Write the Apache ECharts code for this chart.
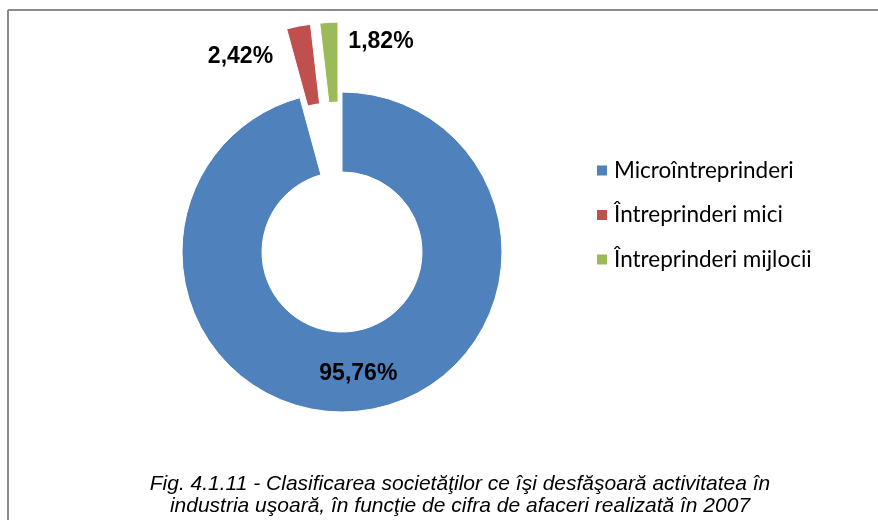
<!DOCTYPE html>
<html>
<head>
<meta charset="utf-8">
<script src="https://cdn.jsdelivr.net/npm/echarts@6/dist/echarts.min.js"></script>
<style>
	html, body { margin: 0; padding: 0; background: #fff; }
	#chart { width: 878px; height: 520px; }
</style>
</head>
<body>
<div id="chart"></div>
<script>
	var categories = ['Microîntreprinderi', 'Întreprinderi mici', 'Întreprinderi mijlocii'];
	var shares = [95.76, 2.42, 1.82];
	var shareLabels = ['95,76%', '2,42%', '1,82%'];
	var exploded = [false, true, true];

	var colors = ['#4F81BD', '#C0504D', '#9BBB59'];
	// shift of each percentage away from its slice's default spot
	var labelShift = [[0, 0], [-65, -6], [50, -18]];

	var chart = echarts.init(document.getElementById('chart'));

	var pieData = [];
	for (var i = 0; i < categories.length; i++) {
		pieData.push({
			name: categories[i],
			value: shares[i],
			selected: exploded[i]
		});
	}

	var option = {
		animation: false,
		color: colors,
		title: {
			text: 'Fig. 4.1.11 - Clasificarea societăţilor ce îşi desfăşoară activitatea în\nindustria uşoară, în funcţie de cifra de afaceri realizată în 2007',
			left: 460,
			top: 473,
			padding: 0,
			textAlign: 'center',
			textStyle: {
				fontFamily: 'Liberation Sans',
				fontStyle: 'italic',
				fontWeight: 'normal',
				fontSize: 21,
				lineHeight: 22,
				color: '#000'
			}
		},
		legend: {
			orient: 'vertical',
			left: 595,
			top: 159,
			padding: 0,
			itemWidth: 12,
			itemHeight: 12,
			itemGap: 21.5,
			icon: 'rect',
			selectedMode: false,
			textStyle: {
				fontFamily: 'Lato',
				fontSize: 22.5,
				lineHeight: 22,
				color: '#000',
				padding: [0, 0, 0, 1]
			},
			data: categories
		},
		graphic: [
			{ type: 'line', shape: { x1: 8, y1: 10, x2: 878, y2: 10 }, style: { stroke: '#8c8c8c', lineWidth: 2 } },
			{ type: 'line', shape: { x1: 8, y1: 10, x2: 8, y2: 520 }, style: { stroke: '#8c8c8c', lineWidth: 2 } }
		],
		series: [
			{
				type: 'pie',
				center: [342, 252],
				radius: [80, 160],
				startAngle: 90,
				clockwise: true,
				selectedMode: 'multiple',
				selectedOffset: 70,
				avoidLabelOverlap: false,
				itemStyle: {
					borderColor: '#fff',
					borderWidth: 1
				},
				label: {
					show: true,
					position: 'inside',
					fontFamily: 'Liberation Sans',
					fontWeight: 'bold',
					fontSize: 23,
					color: '#000',
					formatter: function (p) {
						return shareLabels[p.dataIndex];
					}
				},
				labelLayout: function (params) {
					var s = labelShift[params.dataIndex];
					return { dx: s[0], dy: s[1] };
				},
				labelLine: { show: false },
				emphasis: { disabled: true },
				data: pieData
			}
		]
	};

	chart.setOption(option);
</script>
</body>
</html>
